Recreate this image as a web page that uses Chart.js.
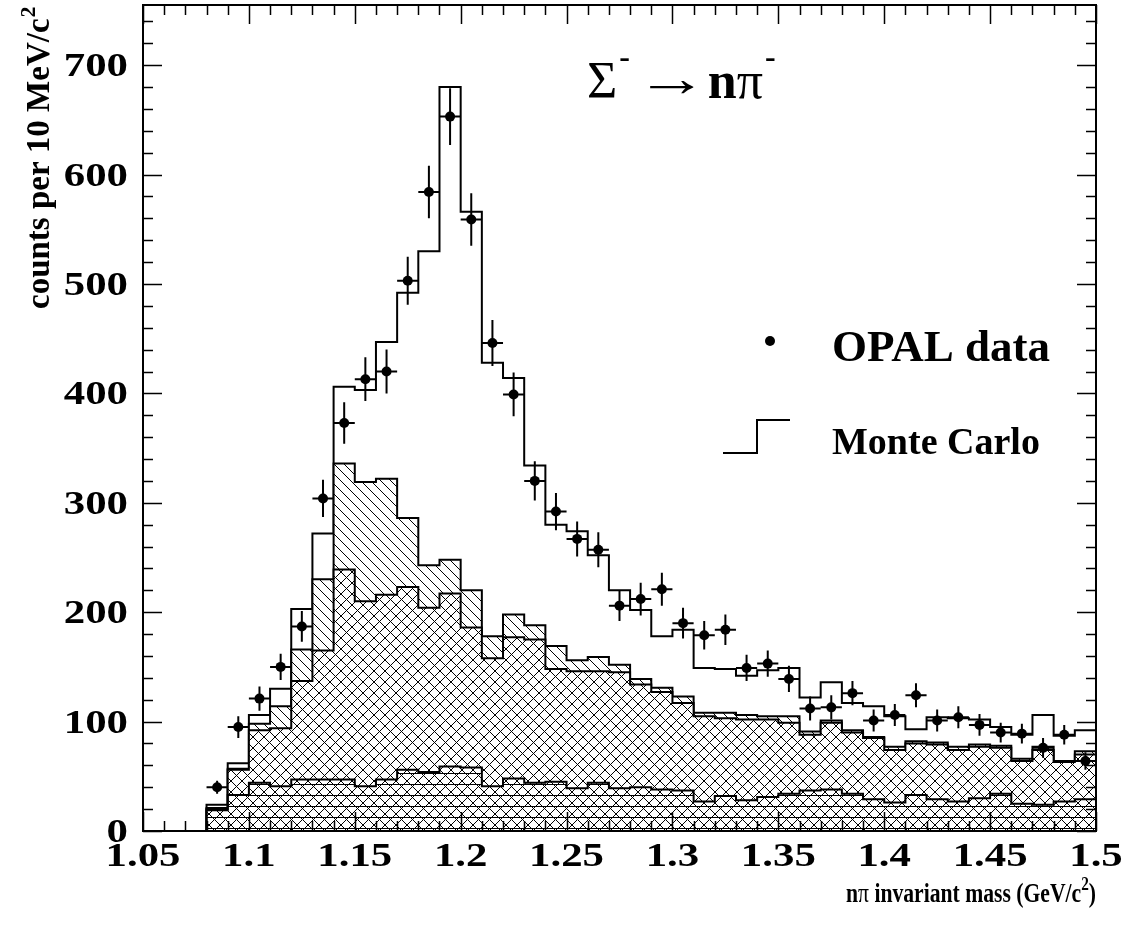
<!DOCTYPE html>
<html>
<head>
<meta charset="utf-8">
<script src="https://cdn.jsdelivr.net/npm/chart.js@4/dist/chart.umd.min.js"></script>
<style>
  html, body { margin: 0; padding: 0; background: #fff; }
  #wrap { width: 1122px; height: 934px; }
</style>
</head>
<body>
<div id="wrap"><canvas id="massChart" width="1122" height="934"></canvas></div>
<script>
// bin centres (GeV/c^2), 10 MeV bins
var massBins = [1.085, 1.095, 1.105, 1.115, 1.125, 1.135, 1.145, 1.155, 1.165, 1.175,
                1.185, 1.195, 1.205, 1.215, 1.225, 1.235, 1.245, 1.255, 1.265, 1.275,
                1.285, 1.295, 1.305, 1.315, 1.325, 1.335, 1.345, 1.355, 1.365, 1.375,
                1.385, 1.395, 1.405, 1.415, 1.425, 1.435, 1.445, 1.455, 1.465, 1.475,
                1.485, 1.495];
var halfBin = 0.005;

// OPAL data and errors
var dataCounts = [40, 95, 121, 150, 187, 304, 373, 413, 420, 503,
                  584, 653, 559, 446, 399, 320, 292, 267, 257, 206,
                  212, 221, 190, 179, 184, 149, 153, 139, 112, 113,
                  126, 101, 106, 124, 101, 104, 97, 90, 89, 76,
                  88, 64];
var dataErrors = [6, 10, 11, 12, 14, 17, 19, 20, 20, 22,
                  24, 26, 24, 21, 20, 18, 17, 16, 16, 14,
                  15, 15, 14, 13, 14, 12, 12, 12, 11, 11,
                  11, 10, 10, 11, 10, 10, 10, 9, 9, 9,
                  9, 8];

// Monte Carlo: total and the stacked components (cumulative tops)
var mcTotal = [24, 62, 106, 130, 203, 272, 406, 403, 447, 492,
               530, 680, 566, 428, 414, 334, 280, 274, 252, 220,
               202, 178, 184, 149, 148, 142, 147, 149, 122, 136,
               117, 114, 105, 93, 104, 103, 102, 95, 88, 106,
               87, 92];
var mcDiag = [21, 57, 98, 114, 166, 230, 336, 319, 322, 286,
              243, 248, 220, 178, 198, 188, 169, 156, 159, 152,
              139, 131, 123, 108, 108, 106, 105, 105, 91, 101,
              92, 86, 77, 82, 81, 77, 79, 78, 66, 77,
              64, 73];
var mcCross = [20, 56, 92, 94, 137, 165, 239, 210, 216, 223,
               204, 217, 186, 158, 177, 175, 148, 146, 146, 145,
               134, 127, 117, 105, 103, 102, 102, 99, 88, 99,
               90, 85, 74, 80, 79, 74, 77, 76, 64, 74,
               63, 70];
var mcBottom = [19, 33, 44, 41, 47, 47, 47, 41, 47, 56,
                54, 59, 58, 41, 48, 44, 45, 39, 44, 39,
                40, 38, 37, 27, 32, 28, 31, 34, 37, 38,
                34, 29, 26, 33, 29, 27, 30, 34, 25, 24,
                27, 29];

var xTicks = { min: 1.05, max: 1.5, step: 0.05, minor: 0.01 };
var yTicks = { min: 0, max: 755, step: 100, minor: 20 };

var serif = '"Liberation Serif", "Times New Roman", serif';

// step histogram points: left edge of each bin, plus closing right edge
function histPoints(values) {
    var pts = [{ x: massBins[0] - halfBin, y: 0 }];
    for (var i = 0; i < massBins.length; i++) {
        pts.push({ x: massBins[i] - halfBin, y: values[i] });
    }
    pts.push({ x: massBins[massBins.length - 1] + halfBin, y: values[values.length - 1] });
    return pts;
}

function hatch(kind) {
    var s = kind === 'diag' ? 10 : 11;
    var c = document.createElement('canvas');
    c.width = s; c.height = s;
    var g = c.getContext('2d');
    if (kind !== 'horiz') {
        g.fillStyle = '#fff';
        g.fillRect(0, 0, s, s);
    }
    g.strokeStyle = '#000';
    g.lineWidth = 1;
    g.beginPath();
    if (kind === 'horiz') {
        g.moveTo(0, 3.5); g.lineTo(s, 3.5);
    } else {
        for (var k = -s; k <= s; k += s) {
            g.moveTo(k, 0); g.lineTo(k + s, s);
            if (kind === 'cross') { g.moveTo(k, s); g.lineTo(k + s, 0); }
        }
    }
    g.stroke();
    return g.createPattern(c, 'repeat');
}

var errY = [], errX = [];
for (var i = 0; i < massBins.length; i++) {
    errY.push({ x: massBins[i], y: dataCounts[i] - dataErrors[i] });
    errY.push({ x: massBins[i], y: dataCounts[i] + dataErrors[i] });
    errY.push({ x: massBins[i], y: null });
    errX.push({ x: massBins[i] - halfBin, y: dataCounts[i] });
    errX.push({ x: massBins[i] + halfBin, y: dataCounts[i] });
    errX.push({ x: massBins[i] + halfBin, y: null });
}

function histSet(label, values, bg, order) {
    return {
        type: 'line', label: label, data: histPoints(values),
        stepped: 'before', fill: 'origin', backgroundColor: bg,
        borderColor: '#000', borderWidth: 2, pointRadius: 0, order: order
    };
}

function tickText(v) { return String(+v.toFixed(2)); }

// text drawn with a horizontal stretch factor
function wideText(ctx, s, x, y, sx) {
    ctx.save();
    ctx.translate(x, y);
    ctx.scale(sx, 1);
    ctx.fillText(s, 0, 0);
    ctx.restore();
}

// frame, inward ticks on all four sides, labels, titles and legend
var decorPlugin = {
    id: 'decor',
    afterDatasetsDraw: function(chart) {
        var ctx = chart.ctx, a = chart.chartArea;
        var xs = chart.scales.x, ys = chart.scales.y;
        ctx.save();
        ctx.strokeStyle = '#000';
        ctx.lineWidth = 2;
        ctx.strokeRect(a.left, a.top, a.right - a.left, a.bottom - a.top);
        ctx.beginPath();
        var nx = Math.round((xTicks.max - xTicks.min) / xTicks.minor);
        for (var i = 0; i <= nx; i++) {
            var px = Math.round(xs.getPixelForValue(xTicks.min + i * xTicks.minor)) + 0.5;
            var len = i % 5 === 0 ? 19 : 10;
            ctx.moveTo(px, a.bottom); ctx.lineTo(px, a.bottom - len);
            ctx.moveTo(px, a.top); ctx.lineTo(px, a.top + len);
        }
        for (var v = yTicks.min; v <= yTicks.max; v += yTicks.minor) {
            var py = Math.round(ys.getPixelForValue(v)) + 0.5;
            var l2 = v % yTicks.step === 0 ? 19 : 10;
            ctx.moveTo(a.left, py); ctx.lineTo(a.left + l2, py);
            ctx.moveTo(a.right, py); ctx.lineTo(a.right - l2, py);
        }
        ctx.lineWidth = 1.5;
        ctx.stroke();

        ctx.fillStyle = '#000';
        ctx.textBaseline = 'alphabetic';

        // tick labels from the scales' own ticks
        ctx.font = 'bold 34px ' + serif;
        ctx.textAlign = 'center';
        xs.ticks.forEach(function(t) {
            wideText(ctx, tickText(t.value), xs.getPixelForValue(t.value), a.bottom + 35, 1.26);
        });
        ctx.textAlign = 'right';
        ys.ticks.forEach(function(t) {
            wideText(ctx, tickText(t.value), a.left - 15, ys.getPixelForValue(t.value) + 11, 1.26);
        });
        ctx.textAlign = 'left';

        // y axis title
        ctx.save();
        ctx.translate(49, 309);
        ctx.rotate(-Math.PI / 2);
        ctx.font = 'bold 33px ' + serif;
        var t = 'counts per 10 MeV/c';
        ctx.fillText(t, 0, 0);
        var w = ctx.measureText(t).width;
        ctx.font = 'bold 22px ' + serif;
        ctx.fillText('2', w + 1, -14);
        ctx.restore();

        // x axis title, right aligned at the frame edge
        var runs = [
            { t: 'n', f: 'bold 27px ' + serif, dy: 0 },
            { t: '\u03c0', f: '27px ' + serif, dy: 0 },
            { t: ' invariant mass (GeV/c', f: 'bold 27px ' + serif, dy: 0 },
            { t: '2', f: 'bold 19px ' + serif, dy: -12 },
            { t: ')', f: 'bold 27px ' + serif, dy: 0 }
        ];
        var total = 0;
        runs.forEach(function(r) { ctx.font = r.f; total += ctx.measureText(r.t).width; });
        var sx = 250 / total;
        ctx.save();
        ctx.translate(a.right - 250, 902);
        ctx.scale(sx, 1);
        var x0 = 0;
        runs.forEach(function(r) { ctx.font = r.f; ctx.fillText(r.t, x0, r.dy); x0 += ctx.measureText(r.t).width; });
        ctx.restore();

        // reaction label
        var head = [
            { t: '\u03a3', f: '52px ' + serif, dy: 0, gap: 2, sx: 1 },
            { t: '-', f: 'bold 32px ' + serif, dy: -31, gap: 5, sx: 1 },
            { t: '\u2192', f: '52px ' + serif, dy: -2, gap: 0, sx: 1.4 },
            { t: 'n', f: 'bold 52px ' + serif, dy: 0, gap: 0, sx: 1 },
            { t: '\u03c0', f: '52px ' + serif, dy: 0, gap: 2, sx: 1 },
            { t: '-', f: 'bold 32px ' + serif, dy: -31, gap: 0, sx: 1 }
        ];
        var hx = 587;
        head.forEach(function(r) {
            ctx.font = r.f;
            wideText(ctx, r.t, hx, 98 + r.dy, r.sx);
            hx += ctx.measureText(r.t).width * r.sx + r.gap;
        });

        // legend
        ctx.beginPath();
        ctx.arc(770, 341, 5, 0, Math.PI * 2);
        ctx.fill();
        ctx.font = 'bold 45px ' + serif;
        ctx.fillText('OPAL data', 832, 361);
        ctx.beginPath();
        ctx.moveTo(723, 453); ctx.lineTo(757, 453); ctx.lineTo(757, 420); ctx.lineTo(790, 420);
        ctx.lineWidth = 2;
        ctx.stroke();
        ctx.font = 'bold 38px ' + serif;
        ctx.fillText('Monte Carlo', 832, 454);
        ctx.restore();
    }
};

var ctx = document.getElementById('massChart').getContext('2d');
new Chart(ctx, {
    type: 'line',
    data: {
        datasets: [
            { type: 'scatter', label: 'OPAL data', data: massBins.map(function(m, i) { return { x: m, y: dataCounts[i] }; }),
              pointRadius: 5, pointBackgroundColor: '#000', pointBorderWidth: 0, order: 0 },
            { type: 'line', label: 'err y', data: errY, borderColor: '#000', borderWidth: 2, pointRadius: 0, spanGaps: false, fill: false, order: 0.5 },
            { type: 'line', label: 'err x', data: errX, borderColor: '#000', borderWidth: 2, pointRadius: 0, spanGaps: false, fill: false, order: 0.5 },
            histSet('bottom', mcBottom, hatch('horiz'), 1),
            histSet('cross', mcCross, hatch('cross'), 2),
            histSet('diag', mcDiag, hatch('diag'), 3),
            histSet('Monte Carlo', mcTotal, '#fff', 4)
        ]
    },
    options: {
        responsive: false,
        animation: false,
        layout: { padding: { left: 0, right: 26, top: 5, bottom: 0 } },
        plugins: { legend: { display: false }, tooltip: { enabled: false } },
        scales: {
            x: {
                type: 'linear', min: xTicks.min, max: xTicks.max,
                grid: { display: false, drawTicks: false },
                border: { display: false },
                ticks: { display: false, stepSize: xTicks.step, autoSkip: false },
                afterFit: function(s) {
                    s.height = 103;
                    s.paddingLeft = 0; s.paddingRight = 0;
                }
            },
            y: {
                type: 'linear', min: yTicks.min, max: yTicks.max,
                grid: { display: false, drawTicks: false },
                border: { display: false },
                ticks: { display: false, stepSize: yTicks.step, includeBounds: false },
                afterFit: function(s) {
                    s.width = 143;
                    s.paddingTop = 0; s.paddingBottom = 0;
                }
            }
        }
    },
    plugins: [decorPlugin]
});
</script>
</body>
</html>
